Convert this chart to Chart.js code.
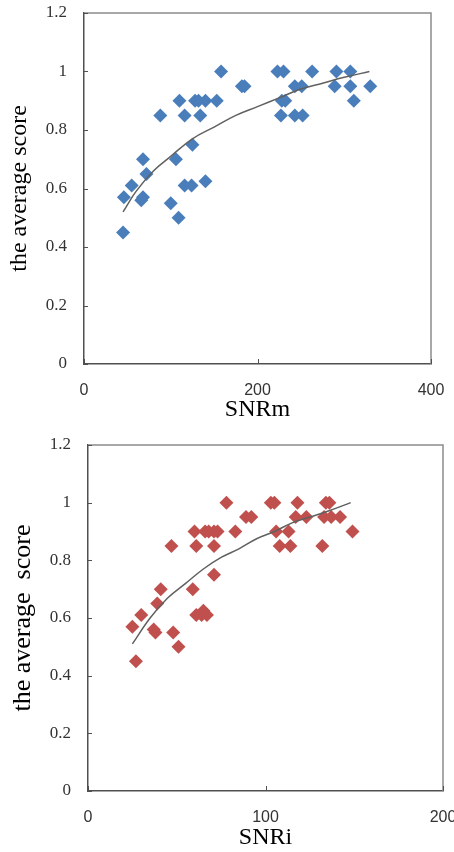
<!DOCTYPE html>
<html>
<head>
<meta charset="utf-8">
<script src="https://cdn.jsdelivr.net/npm/chart.js@4/dist/chart.umd.min.js"></script>
<style>
  html, body { margin: 0; padding: 0; background: #fff; }
  canvas { display: block; }
</style>
</head>
<body>
<canvas id="snrmChart" width="454" height="420"></canvas>
<canvas id="snriChart" width="454" height="432"></canvas>
<script>
// top panel: SNRm vs average score
const snrmX = [45, 46, 55, 66, 68, 68, 72, 88, 100, 106, 109, 110, 116, 116, 124, 125, 128, 132, 134, 140, 140, 153,
  158, 182, 185, 223, 230, 227, 228, 232, 243, 243, 251, 252, 263, 289, 291, 307, 307, 311, 330];
const snrmY = [0.45, 0.57, 0.61, 0.56, 0.57, 0.70, 0.65, 0.85, 0.55, 0.70, 0.50, 0.90, 0.85, 0.61, 0.61, 0.75, 0.90, 0.90, 0.85, 0.90, 0.625, 0.90,
  1.00, 0.95, 0.95, 1.00, 1.00, 0.85, 0.90, 0.90, 0.85, 0.95, 0.95, 0.85, 1.00, 0.95, 1.00, 1.00, 0.95, 0.90, 0.95];
// trend curve
const snrmFitX = [45, 60, 80, 100, 125, 150, 175, 200, 225, 250, 275, 300, 329];
const snrmFitY = [0.52, 0.59, 0.66, 0.71, 0.77, 0.81, 0.85, 0.88, 0.91, 0.94, 0.96, 0.98, 1.00];

// bottom panel: SNRi vs average score
const snriX = [25, 27, 30, 37, 38, 39, 41, 47, 48, 51, 59, 60, 61, 61, 64, 65, 67, 66, 68, 71, 71, 71, 73,
  78, 83, 89, 92, 103, 105, 106, 108, 113, 114, 117, 118, 123, 132, 133, 134, 136, 137, 142, 149];
const snriY = [0.57, 0.45, 0.61, 0.56, 0.55, 0.65, 0.70, 0.85, 0.55, 0.50, 0.70, 0.90, 0.85, 0.61, 0.61, 0.625, 0.61, 0.90, 0.90, 0.90, 0.85, 0.75, 0.90,
  1.00, 0.90, 0.95, 0.95, 1.00, 1.00, 0.90, 0.85, 0.90, 0.85, 0.95, 1.00, 0.95, 0.85, 0.95, 1.00, 1.00, 0.95, 0.95, 0.90];
const snriFitX = [25, 35, 45, 55, 65, 75, 85, 95, 105, 115, 125, 135, 148];
const snriFitY = [0.51, 0.60, 0.67, 0.72, 0.77, 0.81, 0.84, 0.875, 0.90, 0.93, 0.95, 0.97, 1.00];

const yTicks = [0, 0.2, 0.4, 0.6, 0.8, 1, 1.2];
const snrmTicks = [0, 200, 400];
const snriTicks = [0, 100, 200];

const zip = (xs, ys) => xs.map((x, i) => ({ x, y: ys[i] }));

// inner tick marks + grey top/right frame, like the spreadsheet original
const framePlugin = {
  id: 'frame',
  afterDatasetsDraw(chart) {
    const { ctx, chartArea: a, scales } = chart;
    ctx.save();
    ctx.strokeStyle = '#8c8c8c';
    ctx.lineWidth = 1.5;
    ctx.beginPath();
    ctx.moveTo(a.left, a.top);
    ctx.lineTo(a.right, a.top);
    ctx.lineTo(a.right, a.bottom);
    ctx.stroke();
    ctx.strokeStyle = '#505050';
    ctx.lineWidth = 1;
    ctx.beginPath();
    scales.y.ticks.forEach(t => {
      const py = Math.round(scales.y.getPixelForValue(t.value)) + 0.5;
      ctx.moveTo(a.left, py);
      ctx.lineTo(a.left + 4, py);
    });
    scales.x.ticks.forEach(t => {
      const px = Math.round(scales.x.getPixelForValue(t.value)) + 0.5;
      ctx.moveTo(px, a.bottom);
      ctx.lineTo(px, a.bottom - 5);
    });
    ctx.stroke();
    ctx.restore();
  }
};

function makeChart(id, cfg) {
  const ctx = document.getElementById(id).getContext('2d');
  return new Chart(ctx, {
    type: 'scatter',
    data: {
      datasets: [
        {
          label: 'fit',
          type: 'line',
          data: zip(cfg.fitX, cfg.fitY),
          borderColor: '#606060',
          borderWidth: 1.5,
          pointRadius: 0,
          tension: 0.4,
          fill: false,
          order: 0,
        },
        {
          label: 'points',
          data: zip(cfg.xs, cfg.ys),
          pointStyle: 'rectRot',
          pointRadius: 7,
          backgroundColor: cfg.color,
          borderColor: cfg.color,
          borderWidth: 0,
          order: 1,
        },
      ],
    },
    options: {
      responsive: false,
      animation: false,
      events: [],
      layout: { padding: cfg.padding },
      plugins: { legend: { display: false }, tooltip: { enabled: false } },
      scales: {
        x: {
          type: 'linear',
          min: 0,
          max: cfg.xMax,
          afterBuildTicks: s => { s.ticks = cfg.xTicks.map(v => ({ value: v })); },
          afterFit: s => { s.height = cfg.xHeight; s.paddingLeft = 0; s.paddingRight = 0; },
          grid: { display: false, drawTicks: false },
          border: { display: true, color: '#505050', width: 1.5 },
          ticks: {
            padding: 17,
            color: '#333',
            font: { family: "'Liberation Sans'", size: 16 },
            maxRotation: 0,
            autoSkip: false,
          },
          title: {
            display: true,
            text: cfg.xTitle,
            color: '#000',
            font: { family: "'Liberation Serif'", size: 24, lineHeight: 1 },
            padding: { top: 0, bottom: cfg.xTitlePad },
          },
        },
        y: {
          type: 'linear',
          min: 0,
          max: 1.2,
          afterBuildTicks: s => { s.ticks = yTicks.map(v => ({ value: v })); },
          afterFit: s => { s.width = cfg.yWidth; s.paddingTop = 0; s.paddingBottom = 0; },
          grid: { display: false, drawTicks: false },
          border: { display: true, color: '#505050', width: 1.5 },
          ticks: {
            padding: 17,
            color: '#333',
            font: { family: "'Liberation Serif'", size: 17 },
            callback: v => String(parseFloat(v.toFixed(1))),
          },
          title: {
            display: true,
            text: cfg.yTitle,
            color: '#000',
            font: { family: "'Liberation Serif'", size: cfg.yTitleSize, lineHeight: 1 },
            padding: { top: cfg.yTitlePad, bottom: 0 },
          },
        },
      },
    },
    plugins: [framePlugin],
  });
}

makeChart('snrmChart', {
  xs: snrmX, ys: snrmY, fitX: snrmFitX, fitY: snrmFitY,
  color: '#4a7ebb',
  xMax: 400, xTicks: snrmTicks,
  xTitle: 'SNRm', yTitle: 'the average score',
  padding: { left: 0, right: 23, top: 13, bottom: 0 },
  xHeight: 56, yWidth: 84, xTitlePad: -2,
  yTitleSize: 24, yTitlePad: 8,
});

makeChart('snriChart', {
  xs: snriX, ys: snriY, fitX: snriFitX, fitY: snriFitY,
  color: '#c0504d',
  xMax: 200, xTicks: snriTicks,
  xTitle: 'SNRi', yTitle: 'the average  score',
  padding: { left: 0, right: 11, top: 25, bottom: 0 },
  xHeight: 61, yWidth: 88, xTitlePad: 2,
  yTitleSize: 26, yTitlePad: 10,
});
</script>
</body>
</html>
